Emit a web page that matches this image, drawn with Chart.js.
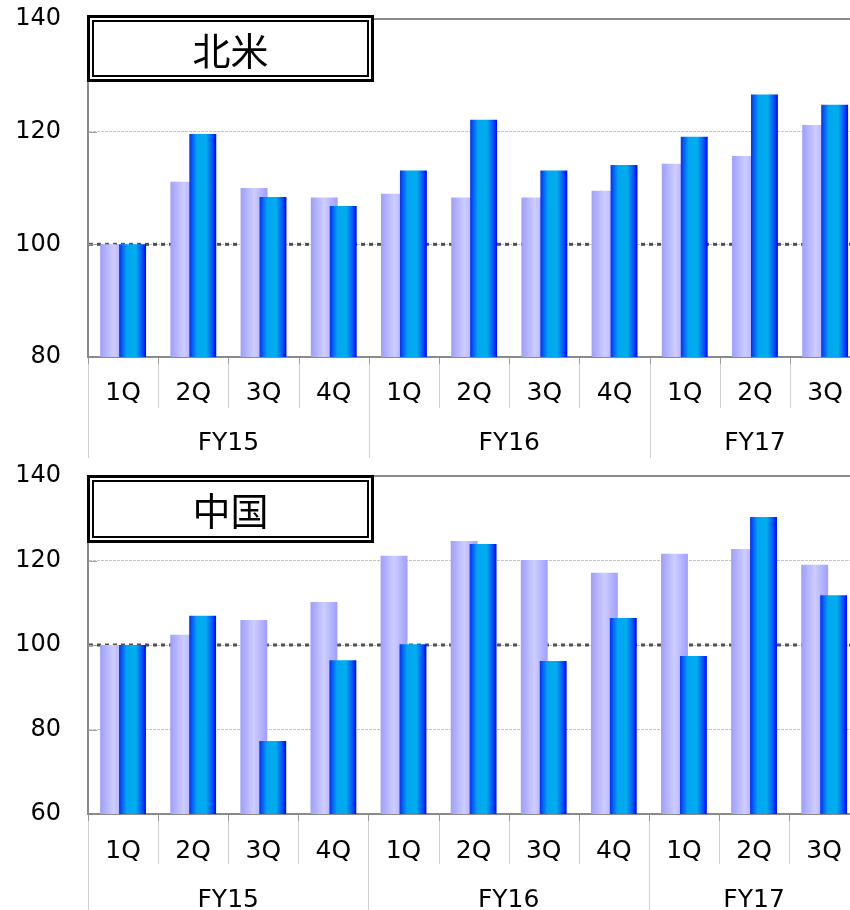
<!DOCTYPE html>
<html><head><meta charset="utf-8">
<script src="https://cdn.jsdelivr.net/npm/chart.js@4.4.1/dist/chart.umd.min.js"></script>
<style>
html,body{margin:0;padding:0;overflow:hidden;background:#fff;width:850px;height:910px;position:relative;}
#c1{position:absolute;left:0;top:0;}
#c2{position:absolute;left:0;top:458px;}
</style></head><body>
<canvas id="c1" width="864" height="458"></canvas>
<canvas id="c2" width="864" height="452"></canvas>
<script>
// ---- data ----
const quarters = ['1Q','2Q','3Q','4Q','1Q','2Q','3Q','4Q','1Q','2Q','3Q'];
const fiscalYears = ['FY15','FY16','FY17'];
const quartersPerYear = [4, 4, 3];
const northAmericaPrev = [100, 111.1, 110.0, 108.3, 109.0, 108.3, 108.3, 109.5, 114.3, 115.7, 121.2];
const northAmericaCurr = [100, 119.6, 108.4, 106.8, 113.1, 122.1, 113.1, 114.1, 119.1, 126.6, 124.8];
const chinaPrev = [100, 102.4, 105.9, 110.2, 121.1, 124.6, 120.1, 117.1, 121.6, 122.7, 119.0];
const chinaCurr = [100, 106.9, 77.3, 96.4, 100.2, 123.9, 96.2, 106.4, 97.4, 130.3, 111.8];
const northAmericaTicks = [80, 100, 120, 140];
const chinaTicks = [60, 80, 100, 120, 140];
const baselineValue = 100;
const titleNorthAmerica = '北米';
const titleChina = '中国';

// ---- styling ----
const FONT = 'DejaVu Sans';
const lightStops = [[0,'#9e9eff'],[0.5,'#cdcdff'],[1,'#9e9eff']];
const blueStops = [[0,'#0030ff'],[0.28,'#00a6ee'],[0.62,'#00aeef'],[0.86,'#0050fa'],[1,'#0000ff']];

// group centers/boundaries derived from quarter counts
const groupBounds = [0];
quartersPerYear.forEach(n => groupBounds.push(groupBounds[groupBounds.length-1] + n));
const groupCenters = quartersPerYear.map((n, i) => groupBounds[i] + (n - 1) / 2);

const decoPlugin = {
  id: 'deco',
  beforeDatasetsDraw(chart, args, opts) {
    const {ctx, chartArea: a, scales: {x, y}} = chart;
    ctx.save();
    ctx.beginPath();
    ctx.rect(a.left, a.top, a.right - a.left, a.bottom - a.top);
    ctx.clip();
    // dotted baseline at 100
    const py = y.getPixelForValue(opts.baseline);
    ctx.save();
    ctx.strokeStyle = '#505050';
    ctx.lineWidth = 3;
    ctx.setLineDash([4, 4]);
    ctx.beginPath();
    ctx.moveTo(a.left + 1, py);
    ctx.lineTo(a.right, py);
    ctx.stroke();
    ctx.restore();
    // bars: previous year behind, current year in front, with gradients
    const stops = [lightStops, blueStops];
    chart.data.datasets.forEach((ds, di) => {
      const meta = chart.getDatasetMeta(di);
      meta.data.forEach(el => {
        const p = el.getProps(['x', 'width'], true);
        const g = ctx.createLinearGradient(p.x - p.width / 2, 0, p.x + p.width / 2, 0);
        stops[di].forEach(s => g.addColorStop(s[0], s[1]));
        const o = el.options;
        el.options = Object.assign({}, o, {backgroundColor: g, inflateAmount: 0});
        el.draw(ctx, a);
        el.options = o;
      });
    });
    ctx.restore();
    return false;
  },
  afterDraw(chart, args, opts) {
    const {ctx, chartArea: a, scales: {x, x2, y}} = chart;
    ctx.save();
    // top border
    ctx.strokeStyle = '#8a8a8a';
    ctx.lineWidth = 2;
    ctx.beginPath();
    ctx.moveTo(a.left, a.top);
    ctx.lineTo(a.right, a.top);
    ctx.stroke();
    // inner tick marks on y axis
    ctx.strokeStyle = '#a0a0a0';
    ctx.lineWidth = 1;
    y.ticks.forEach(t => {
      if (t.value === y.min || t.value === y.max) return;
      const py = Math.round(y.getPixelForValue(t.value)) + 0.5;
      ctx.beginPath(); ctx.moveTo(a.left, py); ctx.lineTo(a.left + 9, py); ctx.stroke();
    });
    // category separators
    for (let k = 0; k <= quarters.length; k++) {
      const px = Math.round(x.getPixelForValue(k - 0.5)) + 0.5;
      const isGroup = groupBounds.includes(k);
      ctx.strokeStyle = '#cfcfcf';
      ctx.lineWidth = 1;
      ctx.beginPath();
      ctx.moveTo(px, x.top + 1);
      ctx.lineTo(px, isGroup ? x2.bottom : x.bottom);
      ctx.stroke();
      ctx.strokeStyle = '#9a9a9a';
      ctx.beginPath();
      ctx.moveTo(px, x.top + 1);
      ctx.lineTo(px, x.top + 7);
      ctx.stroke();
    }
    // title box
    const b = opts.box;
    ctx.fillStyle = '#fff';
    ctx.fillRect(b.x, b.y, b.w, b.h);
    ctx.strokeStyle = '#000';
    ctx.lineWidth = 3;
    ctx.strokeRect(b.x + 1.5, b.y + 1.5, b.w - 3, b.h - 3);
    ctx.lineWidth = 2;
    ctx.strokeRect(b.x + 6, b.y + 6, b.w - 12, b.h - 12);
    ctx.fillStyle = '#000';
    ctx.font = '38px "Noto Sans CJK JP"';
    ctx.textAlign = 'center';
    ctx.textBaseline = 'middle';
    ctx.fillText(opts.title, b.x + b.w / 2, b.y + b.h / 2 + 2);
    ctx.restore();
  }
};

function makeChart(id, prev, curr, ticks, title, box, layout) {
  const yMin = Math.min(...ticks), yMax = Math.max(...ticks);
  return new Chart(document.getElementById(id), {
    type: 'bar',
    data: {
      labels: quarters,
      datasets: [
        {label: 'prev', data: prev, backgroundColor: '#b4b4ff', borderWidth: 0},
        {label: 'curr', data: curr, backgroundColor: '#00aeef', borderWidth: 0}
      ]
    },
    options: {
      responsive: false,
      animation: false,
      devicePixelRatio: 1,
      categoryPercentage: 0.54,
      barPercentage: 1.42,
      layout: {autoPadding: false, padding: {top: layout.top, right: 1, left: 0, bottom: 0}},
      plugins: {
        legend: {display: false},
        tooltip: {enabled: false},
        title: {display: false},
        deco: {baseline: baselineValue, title: title, box: box}
      },
      scales: {
        x: {
          type: 'category',
          position: 'bottom',
          offset: true,
          grid: {display: false, drawTicks: false},
          border: {display: true, color: '#8a8a8a', width: 2},
          ticks: {color: '#000', font: {family: FONT, size: 25}, padding: layout.xPad, autoSkip: false, maxRotation: 0},
          afterFit: s => { s.height = layout.xh; }
        },
        x2: {
          type: 'linear',
          position: 'bottom',
          offset: false,
          bounds: 'data',
          min: -0.5,
          max: quarters.length - 0.5,
          grid: {display: false, drawTicks: false, offset: false},
          border: {display: false},
          ticks: {color: '#000', font: {family: FONT, size: 25}, padding: layout.x2Pad, autoSkip: false, maxRotation: 0,
                  callback: (v) => { const i = groupCenters.indexOf(v); return i >= 0 ? fiscalYears[i] : ''; }},
          afterBuildTicks: s => { s.ticks = groupCenters.map(v => ({value: v})); },
          afterFit: s => { s.height = layout.x2h; }
        },
        y: {
          min: yMin,
          max: yMax,
          grid: {color: c => c.tick && c.tick.value === yMax ? 'rgba(0,0,0,0)' : '#c4c4c4', lineWidth: 1,
                 drawTicks: true, tickLength: 27, tickColor: 'rgba(0,0,0,0)'},
          border: {display: true, color: '#8a8a8a', width: 2, dash: [3, 1]},
          ticks: {stepSize: 20, color: '#000', font: {family: FONT, size: 24}, padding: 0},
          afterBuildTicks: s => { s.ticks = ticks.map(v => ({value: v})); },
          afterFit: s => { s.width = 88; }
        }
      }
    },
    plugins: [decoPlugin]
  });
}

makeChart('c1', northAmericaPrev, northAmericaCurr, northAmericaTicks, titleNorthAmerica,
  {x: 87, y: 15, w: 287, h: 67},
  {top: 19, xh: 51, x2h: 50, xPad: 21, x2Pad: 20});
makeChart('c2', chinaPrev, chinaCurr, chinaTicks, titleChina,
  {x: 87, y: 17, w: 287, h: 68},
  {top: 18, xh: 50, x2h: 46, xPad: 22, x2Pad: 21});
</script>
</body></html>
